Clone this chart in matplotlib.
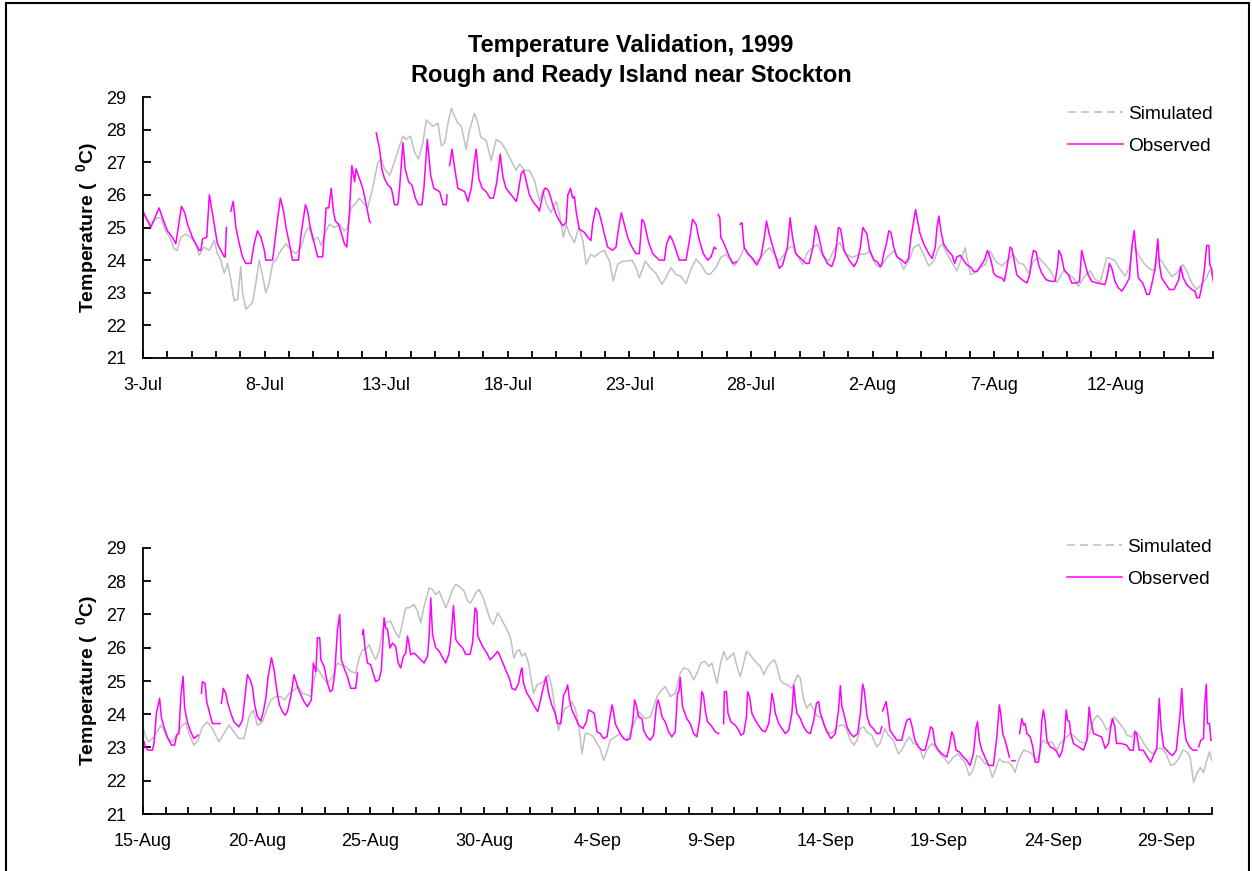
import numpy as np
import matplotlib.pyplot as plt
from matplotlib.lines import Line2D
from matplotlib.patches import Rectangle

plt.rcParams['font.family'] = ['Liberation Sans', 'DejaVu Sans']
plt.rcParams['mathtext.fontset'] = 'custom'
plt.rcParams['mathtext.rm'] = 'Liberation Sans'
plt.rcParams['mathtext.bf'] = 'Liberation Sans:bold'

nan = np.nan

# ---- data: (days since first tick, deg C), nan = gap in record ----
# 3-Jul .. 16-Aug 1999
top_labels = ['3-Jul', '8-Jul', '13-Jul', '18-Jul', '23-Jul', '28-Jul', '2-Aug', '7-Aug', '12-Aug']
top_ndays = 44

top_obs = [
    (0.00, 25.5), (0.32, 25.0), (0.66, 25.6), (0.80, 25.3), (1.00, 24.9), (1.21, 24.7), (1.35, 24.5),
    (1.58, 25.65), (1.72, 25.45), (1.83, 25.1), (2.03, 24.7), (2.31, 24.3), (2.38, 24.3), (2.45, 24.65),
    (2.62, 24.7), (2.73, 26.0), (2.86, 25.4), (2.95, 25.0), (3.06, 24.5), (3.20, 24.3), (3.34, 24.1),
    (3.38, 24.1), (3.43, 25.0), (nan, nan),
    (3.61, 25.5), (3.71, 25.8), (3.82, 25.0), (3.96, 24.5), (4.09, 24.1), (4.23, 23.9), (4.44, 23.9),
    (4.57, 24.5), (4.71, 24.9), (4.85, 24.7), (4.99, 24.3), (5.05, 24.0), (5.33, 24.0), (5.54, 25.3),
    (5.65, 25.9), (5.78, 25.5), (5.88, 25.0), (6.02, 24.5), (6.15, 24.0), (6.39, 24.0), (6.50, 24.8),
    (6.68, 25.7), (6.77, 25.5), (6.88, 25.0), (7.05, 24.5), (7.18, 24.1), (7.39, 24.1), (7.53, 25.6),
    (7.64, 25.6), (7.74, 26.2), (7.83, 25.5), (7.91, 25.2), (8.04, 25.1), (8.17, 24.8), (8.28, 24.5),
    (8.38, 24.4), (8.49, 25.5), (8.59, 26.9), (8.70, 26.4), (8.76, 26.8), (8.90, 26.5), (9.04, 26.2),
    (9.18, 25.7), (9.31, 25.2), (9.35, 25.15), (nan, nan),
    (9.59, 27.9), (9.73, 27.4), (9.82, 26.8), (9.93, 26.5), (10.07, 26.3), (10.21, 26.2), (10.27, 26.0),
    (10.34, 25.7), (10.48, 25.7), (10.55, 26.2), (10.69, 27.6), (10.78, 26.8), (10.92, 26.4),
    (11.06, 26.3), (11.20, 25.9), (11.33, 25.7), (11.47, 25.7), (11.55, 26.2), (11.69, 27.7),
    (11.83, 26.6), (11.96, 26.2), (12.20, 26.1), (12.34, 25.7), (12.47, 25.7), (12.50, 26.0), (nan, nan),
    (12.61, 26.9), (12.71, 27.4), (12.82, 26.8), (12.95, 26.2), (13.23, 26.1), (13.36, 25.8),
    (13.50, 26.2), (13.63, 27.05), (13.70, 27.4), (13.81, 26.5), (13.95, 26.2), (14.11, 26.1),
    (14.27, 25.9), (14.41, 25.9), (14.55, 26.4), (14.69, 27.25), (14.80, 26.55), (14.93, 26.2),
    (15.14, 26.0), (15.35, 25.8), (15.41, 26.0), (15.55, 26.65), (15.65, 26.75), (15.76, 26.4),
    (15.89, 26.0), (16.03, 25.8), (16.24, 25.6), (16.30, 25.5), (16.41, 25.9), (16.51, 26.2),
    (16.60, 26.2), (16.69, 26.1), (16.85, 25.7), (16.99, 25.4), (17.13, 25.2), (17.26, 25.05),
    (17.40, 25.15), (17.47, 26.0), (17.58, 26.2), (17.67, 25.9), (17.74, 25.95), (17.81, 25.5),
    (17.94, 24.95), (18.15, 24.85), (18.29, 24.7), (18.42, 24.6), (18.49, 25.1), (18.62, 25.6),
    (18.74, 25.5), (18.88, 25.1), (18.97, 24.8), (19.11, 24.4), (19.31, 24.3), (19.45, 24.4),
    (19.56, 25.0), (19.67, 25.45), (19.79, 25.1), (19.93, 24.7), (20.07, 24.45), (20.27, 24.2),
    (20.41, 24.2), (20.52, 25.25), (20.61, 25.15), (20.79, 24.55), (20.96, 24.2), (21.09, 24.1),
    (21.23, 24.0), (21.44, 24.0), (21.53, 24.5), (21.67, 24.75), (21.78, 24.6), (21.92, 24.3),
    (22.05, 24.0), (22.33, 24.0), (22.47, 24.6), (22.60, 25.25), (22.74, 25.1), (22.88, 24.6),
    (23.04, 24.2), (23.22, 24.0), (23.36, 24.1), (23.49, 24.4), (23.56, 24.35), (nan, nan),
    (23.65, 25.4), (23.72, 25.3), (23.76, 24.7), (23.90, 24.5), (24.11, 24.1), (24.25, 23.9),
    (24.41, 23.95), (nan, nan),
    (24.56, 25.1), (24.63, 25.15), (24.72, 24.4), (24.86, 24.2), (25.07, 24.05), (25.24, 23.85),
    (25.41, 24.1), (25.55, 24.7), (25.64, 25.2), (25.75, 24.8), (25.96, 24.25), (26.16, 23.75),
    (26.30, 23.85), (26.50, 24.4), (26.61, 25.3), (26.71, 24.7), (26.84, 24.2), (27.05, 24.05),
    (27.26, 23.9), (27.39, 23.9), (27.55, 24.4), (27.66, 25.05), (27.77, 24.8), (27.94, 24.2),
    (28.14, 23.9), (28.32, 23.8), (28.46, 24.1), (28.60, 25.0), (28.69, 24.95), (28.83, 24.3),
    (29.04, 24.0), (29.24, 23.8), (29.38, 24.0), (29.50, 24.4), (29.60, 25.0), (29.77, 24.8),
    (29.88, 24.3), (30.05, 24.0), (30.19, 23.95), (30.32, 23.8), (30.39, 23.9), (30.46, 24.2),
    (30.57, 24.5), (30.67, 24.9), (30.76, 24.85), (30.87, 24.4), (31.00, 24.1), (31.21, 24.0),
    (31.34, 23.9), (31.48, 24.05), (31.58, 24.7), (31.69, 25.2), (31.77, 25.55), (31.83, 25.3),
    (31.94, 24.85), (32.10, 24.5), (32.31, 24.2), (32.45, 24.05), (32.58, 24.4), (32.65, 25.0),
    (32.73, 25.35), (32.81, 24.9), (32.92, 24.5), (33.09, 24.3), (33.27, 24.15), (33.38, 23.9),
    (33.47, 24.1), (33.61, 24.15), (33.74, 24.0), (33.88, 23.85), (34.02, 23.8), (34.16, 23.65),
    (34.29, 23.65), (34.43, 23.8), (34.60, 24.0), (34.73, 24.3), (34.87, 24.0), (34.98, 23.6),
    (35.11, 23.5), (35.32, 23.45), (35.42, 23.35), (35.52, 23.75), (35.66, 24.4), (35.73, 24.35),
    (35.82, 24.0), (35.93, 23.55), (36.07, 23.45), (36.24, 23.35), (36.35, 23.3), (36.46, 23.55),
    (36.55, 24.05), (36.62, 24.3), (36.73, 24.25), (36.83, 23.85), (36.96, 23.6), (37.14, 23.4),
    (37.33, 23.35), (37.51, 23.35), (37.61, 23.85), (37.66, 24.3), (37.76, 24.15), (37.88, 23.7),
    (38.06, 23.55), (38.19, 23.3), (38.40, 23.3), (38.51, 23.35), (38.60, 24.3), (38.70, 24.0),
    (38.84, 23.6), (39.01, 23.35), (39.22, 23.3), (39.56, 23.25), (39.66, 23.55), (39.74, 23.9),
    (39.84, 23.75), (39.97, 23.35), (40.11, 23.15), (40.25, 23.05), (40.38, 23.2), (40.56, 23.45),
    (40.66, 24.4), (40.76, 24.9), (40.84, 24.2), (40.93, 23.45), (41.11, 23.3), (41.21, 23.1),
    (41.27, 22.95), (41.38, 22.95), (41.48, 23.25), (41.62, 23.75), (41.73, 24.65), (41.80, 23.85),
    (41.89, 23.45), (42.03, 23.3), (42.20, 23.1), (42.40, 23.1), (42.59, 23.4), (42.67, 23.8),
    (42.78, 23.45), (42.92, 23.25), (43.12, 23.1), (43.26, 23.05), (43.33, 22.85), (43.44, 22.85),
    (43.53, 23.15), (43.63, 23.6), (43.74, 24.45), (43.83, 24.45), (43.87, 23.85), (43.94, 23.75),
    (44.01, 23.35),
]

top_sim = [
    (0.00, 25.4), (0.32, 25.1), (0.59, 25.3), (0.73, 25.3), (0.93, 24.9), (1.13, 24.65), (1.27, 24.35),
    (1.41, 24.3), (1.55, 24.7), (1.76, 24.8), (1.96, 24.7), (2.17, 24.5), (2.31, 24.15), (2.51, 24.4),
    (2.72, 24.3), (2.93, 24.6), (3.06, 24.2), (3.20, 24.0), (3.34, 23.6), (3.48, 23.9), (3.61, 23.4),
    (3.75, 22.75), (3.89, 22.8), (4.02, 23.8), (4.09, 23.0), (4.23, 22.5), (4.37, 22.6), (4.50, 22.7),
    (4.64, 23.3), (4.78, 24.0), (4.92, 23.5), (5.05, 23.0), (5.19, 23.3), (5.33, 23.9), (5.47, 24.0),
    (5.67, 24.3), (5.88, 24.5), (6.09, 24.3), (6.29, 24.2), (6.50, 24.4), (6.70, 24.9), (6.84, 25.0),
    (6.98, 24.6), (7.19, 24.7), (7.32, 24.45), (7.53, 24.9), (7.67, 25.1), (7.87, 25.0), (8.08, 25.1),
    (8.28, 24.9), (8.42, 25.0), (8.56, 25.6), (8.70, 25.7), (8.90, 25.9), (9.11, 25.7), (9.24, 25.6),
    (9.38, 26.0), (9.52, 26.5), (9.66, 27.0), (9.80, 27.1), (9.93, 26.8), (10.14, 26.6), (10.34, 27.0),
    (10.55, 27.5), (10.69, 27.8), (10.82, 27.7), (11.00, 27.8), (11.17, 27.3), (11.33, 27.1),
    (11.51, 27.6), (11.65, 28.3), (11.78, 28.2), (11.92, 28.1), (12.13, 28.2), (12.27, 27.5),
    (12.41, 27.6), (12.54, 28.2), (12.68, 28.65), (12.82, 28.4), (12.95, 28.2), (13.09, 28.1),
    (13.29, 27.4), (13.42, 27.97), (13.63, 28.5), (13.77, 28.2), (13.89, 27.77), (14.11, 27.67),
    (14.32, 27.05), (14.52, 27.7), (14.73, 27.6), (14.93, 27.36), (15.14, 27.05), (15.35, 26.75),
    (15.48, 26.95), (15.69, 26.75), (15.89, 26.75), (16.10, 26.44), (16.30, 25.82), (16.44, 26.13),
    (16.60, 25.7), (16.78, 25.46), (16.99, 25.8), (17.13, 25.4), (17.29, 24.7), (17.40, 25.1),
    (17.54, 24.8), (17.74, 24.54), (17.92, 25.0), (18.09, 24.6), (18.22, 23.87), (18.42, 24.18),
    (18.56, 24.1), (18.77, 24.23), (18.97, 24.3), (19.18, 23.97), (19.34, 23.36), (19.52, 23.87),
    (19.72, 23.97), (19.93, 23.97), (20.11, 24.0), (20.27, 23.77), (20.41, 23.46), (20.66, 23.97),
    (20.85, 23.77), (21.09, 23.6), (21.34, 23.26), (21.50, 23.46), (21.71, 23.77), (21.92, 23.56),
    (22.12, 23.5), (22.33, 23.28), (22.53, 23.72), (22.74, 24.03), (22.94, 23.87), (23.15, 23.6),
    (23.31, 23.56), (23.56, 23.77), (23.76, 24.08), (23.97, 24.18), (24.14, 24.03), (24.31, 23.82),
    (24.52, 24.03), (24.72, 24.38), (24.93, 24.18), (25.13, 23.92), (25.34, 24.03), (25.55, 24.23),
    (25.75, 24.38), (25.96, 24.18), (26.16, 23.97), (26.37, 24.18), (26.57, 24.38), (26.71, 24.44),
    (26.91, 24.13), (27.12, 23.87), (27.32, 24.23), (27.53, 24.38), (27.73, 24.49), (27.94, 24.13),
    (28.21, 23.97), (28.42, 24.33), (28.65, 24.54), (28.90, 24.18), (29.17, 24.08), (29.45, 24.18),
    (29.71, 24.18), (29.91, 24.28), (30.12, 23.87), (30.32, 23.77), (30.59, 24.08), (30.87, 24.28),
    (31.07, 24.08), (31.28, 23.72), (31.48, 23.97), (31.69, 24.38), (31.90, 24.49), (32.10, 24.18),
    (32.31, 23.82), (32.52, 23.97), (32.72, 24.38), (32.86, 24.49), (33.07, 24.18), (33.27, 23.92),
    (33.47, 23.67), (33.61, 23.97), (33.81, 24.38), (34.02, 23.56), (34.22, 23.62), (34.43, 23.77),
    (34.64, 23.87), (34.84, 24.28), (35.05, 23.97), (35.32, 23.82), (35.52, 23.97), (35.79, 24.18),
    (36.00, 23.92), (36.21, 23.87), (36.42, 23.6), (36.62, 23.97), (36.83, 24.08), (37.10, 23.87),
    (37.31, 23.67), (37.58, 23.31), (37.85, 23.67), (38.06, 23.56), (38.26, 23.46), (38.47, 23.2),
    (38.67, 23.46), (38.95, 23.67), (39.16, 23.41), (39.36, 23.31), (39.63, 24.08), (39.84, 24.03),
    (39.97, 23.97), (40.18, 23.72), (40.38, 23.51), (40.56, 23.77), (40.70, 24.44), (40.79, 24.38),
    (40.93, 24.18), (41.14, 23.92), (41.34, 23.77), (41.55, 23.67), (41.75, 24.08), (41.89, 23.97),
    (42.10, 23.72), (42.30, 23.5), (42.51, 23.6), (42.75, 23.87), (42.92, 23.67), (43.12, 23.31),
    (43.33, 23.1), (43.53, 23.26), (43.74, 23.46), (43.87, 23.72), (44.01, 23.46),
]

# 15-Aug .. 1-Oct 1999
bot_labels = ['15-Aug', '20-Aug', '25-Aug', '30-Aug', '4-Sep', '9-Sep', '14-Sep', '19-Sep', '24-Sep', '29-Sep']
bot_ndays = 47

bot_obs = [
    (0.00, 23.27), (0.12, 23.0), (0.22, 22.92), (0.41, 22.92), (0.48, 23.1), (0.59, 24.03), (0.67, 24.28),
    (0.73, 24.48), (0.81, 23.9), (0.92, 23.62), (1.07, 23.32), (1.25, 23.07), (1.39, 23.07), (1.48, 23.37),
    (1.58, 23.42), (1.66, 24.53), (1.76, 25.14), (1.83, 24.18), (1.95, 23.77), (2.10, 23.47), (2.24, 23.27),
    (2.42, 23.37), (nan, nan),
    (2.57, 24.63), (2.61, 24.98), (2.73, 24.93), (2.80, 24.38), (2.93, 24.03), (3.05, 23.72), (3.39, 23.72),
    (nan, nan),
    (3.45, 24.33), (3.53, 24.78), (3.64, 24.63), (3.71, 24.38), (3.86, 24.03), (4.00, 23.77), (4.22, 23.62),
    (4.37, 23.82), (4.47, 24.43), (4.59, 25.19), (4.71, 25.04), (4.81, 24.83), (4.91, 24.28), (5.03, 23.93),
    (5.18, 23.8), (5.29, 24.08), (5.40, 24.48), (5.50, 25.13), (5.65, 25.7), (5.76, 25.34), (5.88, 24.73),
    (6.00, 24.28), (6.13, 24.08), (6.25, 23.97), (6.35, 24.08), (6.50, 24.53), (6.64, 25.19), (6.82, 24.78),
    (6.94, 24.58), (7.08, 24.38), (7.23, 24.23), (7.40, 24.43), (7.49, 25.54), (7.60, 25.29), (7.67, 26.3),
    (7.77, 26.3), (7.82, 25.64), (7.96, 25.44), (8.11, 24.93), (8.23, 24.68), (8.33, 24.73), (8.43, 25.24),
    (8.55, 26.55), (8.65, 27.0), (8.72, 25.64), (8.84, 25.39), (8.99, 25.13), (9.13, 24.78), (9.35, 24.78),
    (9.43, 25.24), (nan, nan),
    (9.65, 26.4), (9.69, 26.55), (9.75, 26.04), (9.87, 25.54), (10.01, 25.49), (10.12, 25.24),
    (10.23, 24.98), (10.38, 25.04), (10.48, 25.34), (10.56, 26.35), (10.60, 26.9), (10.67, 26.6),
    (10.75, 26.55), (10.86, 25.99), (10.97, 26.14), (11.11, 26.04), (11.22, 25.54), (11.33, 25.39),
    (11.45, 25.74), (11.55, 25.84), (11.63, 26.35), (11.70, 26.1), (11.77, 25.79), (11.92, 25.84),
    (12.07, 25.74), (12.21, 25.64), (12.36, 25.54), (12.51, 25.74), (12.58, 26.35), (12.65, 27.5),
    (12.73, 26.4), (12.87, 26.0), (13.02, 25.9), (13.17, 25.7), (13.31, 25.54), (13.46, 25.84),
    (13.56, 26.45), (13.65, 27.27), (13.75, 26.25), (13.90, 26.1), (14.05, 26.0), (14.19, 25.8),
    (14.38, 25.8), (14.49, 26.15), (14.60, 27.2), (14.68, 27.1), (14.72, 26.35), (14.82, 26.2),
    (14.96, 26.0), (15.12, 25.84), (15.26, 25.64), (15.41, 25.74), (15.59, 25.89), (15.67, 25.79),
    (15.82, 25.54), (16.00, 25.24), (16.11, 25.08), (16.22, 24.78), (16.37, 24.73), (16.51, 24.93),
    (16.61, 25.29), (16.66, 25.39), (16.73, 24.93), (16.88, 24.63), (17.02, 24.48), (17.17, 24.28),
    (17.35, 24.08), (17.43, 24.28), (17.54, 24.63), (17.68, 25.03), (17.72, 25.13), (17.83, 24.63),
    (17.97, 24.28), (18.12, 24.03), (18.22, 23.72), (18.37, 23.72), (18.49, 24.58), (18.58, 24.68),
    (18.67, 24.88), (18.75, 24.43), (18.86, 24.13), (19.00, 23.92), (19.15, 23.67), (19.34, 23.57),
    (19.49, 23.77), (19.59, 24.13), (19.73, 24.08), (19.84, 24.03), (19.96, 23.47), (20.10, 23.42),
    (20.25, 23.27), (20.40, 23.32), (20.51, 23.82), (20.62, 24.28), (20.69, 24.08), (20.76, 23.72),
    (20.87, 23.57), (20.98, 23.42), (21.13, 23.27), (21.28, 23.22), (21.42, 23.27), (21.54, 23.82),
    (21.61, 24.43), (21.69, 24.28), (21.79, 23.92), (21.94, 23.87), (22.01, 23.52), (22.16, 23.32),
    (22.30, 23.22), (22.45, 23.37), (22.57, 24.23), (22.64, 24.43), (22.71, 24.28), (22.82, 23.92),
    (22.96, 23.77), (23.11, 23.47), (23.25, 23.32), (23.40, 23.47), (23.50, 24.63), (23.56, 24.68),
    (23.62, 25.11), (23.72, 24.23), (23.80, 24.08), (23.91, 23.87), (24.06, 23.72), (24.21, 23.42),
    (24.35, 23.32), (24.47, 23.82), (24.57, 24.68), (24.64, 24.58), (24.73, 24.08), (24.82, 23.77),
    (24.97, 23.67), (25.16, 23.47), (25.31, 23.42), (nan, nan),
    (25.53, 23.72), (25.56, 24.68), (25.65, 24.68), (25.72, 24.03), (25.85, 23.77), (26.04, 23.67),
    (26.19, 23.52), (26.29, 23.37), (26.41, 23.42), (26.53, 23.92), (26.58, 24.68), (26.67, 24.53),
    (26.77, 24.03), (26.92, 23.82), (27.06, 23.67), (27.21, 23.52), (27.36, 23.47), (27.51, 23.72),
    (27.58, 24.08), (27.65, 24.63), (27.73, 24.38), (27.80, 24.03), (27.95, 23.72), (28.09, 23.57),
    (28.24, 23.42), (28.39, 23.52), (28.53, 24.03), (28.61, 24.88), (28.68, 24.38), (28.75, 24.03),
    (28.90, 23.87), (29.05, 23.62), (29.19, 23.47), (29.34, 23.42), (29.49, 23.82), (29.61, 24.33),
    (29.71, 24.38), (29.78, 24.03), (29.93, 23.72), (30.07, 23.47), (30.25, 23.27), (30.44, 23.42),
    (30.58, 24.13), (30.66, 24.86), (30.73, 24.23), (30.81, 24.03), (30.95, 23.62), (31.10, 23.42),
    (31.25, 23.32), (31.42, 23.42), (31.54, 24.03), (31.64, 24.91), (31.71, 24.73), (31.83, 23.95),
    (31.96, 23.67), (32.11, 23.57), (32.26, 23.42), (32.40, 23.42), (32.48, 23.62), (nan, nan),
    (32.52, 24.1), (32.67, 24.38), (32.73, 24.13), (32.84, 23.52), (32.99, 23.37), (33.14, 23.22),
    (33.36, 23.22), (33.46, 23.52), (33.58, 23.82), (33.72, 23.87), (33.80, 23.67), (33.94, 23.22),
    (34.09, 23.02), (34.24, 22.92), (34.38, 22.92), (34.53, 23.32), (34.63, 23.62), (34.72, 23.57),
    (34.82, 23.1), (34.97, 22.92), (35.12, 22.81), (35.34, 22.71), (35.45, 23.02), (35.56, 23.47),
    (35.63, 23.37), (35.75, 22.92), (35.89, 22.87), (36.07, 22.71), (36.22, 22.61), (36.36, 22.46),
    (36.51, 22.81), (36.63, 23.62), (36.69, 23.77), (36.77, 23.22), (36.88, 22.92), (37.02, 22.71),
    (37.17, 22.46), (37.39, 22.46), (37.54, 23.32), (37.65, 24.28), (37.71, 24.03), (37.80, 23.42),
    (37.90, 23.22), (37.98, 23.02), (38.09, 22.71), (nan, nan), (38.20, 22.6), (38.34, 22.6), (nan, nan),
    (38.54, 23.42), (38.64, 23.87), (38.72, 23.67), (38.79, 23.72), (38.86, 23.42), (39.01, 23.32),
    (39.12, 23.02), (39.23, 22.56), (39.37, 22.56), (39.44, 22.92), (39.52, 23.82), (39.59, 24.13),
    (39.66, 23.82), (39.74, 23.22), (39.88, 23.02), (40.03, 22.97), (40.18, 22.87), (40.29, 22.71),
    (40.40, 22.87), (40.50, 23.22), (40.59, 24.13), (40.65, 23.82), (40.73, 23.77), (40.79, 23.42),
    (40.91, 23.12), (41.13, 23.02), (41.35, 22.92), (41.50, 23.22), (41.60, 24.22), (41.67, 23.82),
    (41.79, 23.42), (41.96, 23.37), (42.15, 23.32), (42.30, 22.97), (42.45, 23.12), (42.55, 23.62),
    (42.62, 23.87), (42.73, 23.62), (42.80, 23.12), (43.02, 23.12), (43.25, 23.07), (43.39, 22.92),
    (43.54, 22.92), (43.61, 23.47), (43.69, 23.42), (43.80, 22.92), (43.98, 22.92), (44.16, 22.71),
    (44.31, 22.56), (44.43, 22.76), (44.57, 22.97), (44.68, 24.48), (44.76, 23.62), (44.87, 23.02),
    (45.01, 22.92), (45.16, 22.81), (45.28, 22.76), (45.43, 22.92), (45.60, 24.03), (45.67, 24.78),
    (45.75, 23.82), (45.86, 23.22), (46.01, 23.02), (46.16, 22.92), (46.33, 22.92), (nan, nan),
    (46.41, 23.02), (46.51, 23.22), (46.63, 23.27), (46.67, 24.23), (46.75, 24.9), (46.80, 23.72),
    (46.89, 23.72), (46.95, 23.22), (47.04, 23.22),
]

bot_sim = [
    (0.00, 23.62), (0.12, 23.32), (0.26, 23.17), (0.48, 23.32), (0.63, 23.47), (0.78, 23.67), (0.92, 23.52),
    (1.07, 23.27), (1.29, 23.17), (1.51, 23.42), (1.73, 23.67), (1.88, 23.74), (2.02, 23.42), (2.24, 23.07),
    (2.42, 23.22), (2.61, 23.62), (2.83, 23.77), (3.05, 23.57), (3.34, 23.17), (3.56, 23.42), (3.78, 23.67),
    (4.00, 23.47), (4.22, 23.27), (4.44, 23.27), (4.66, 23.92), (4.85, 24.13), (5.03, 23.67), (5.25, 23.77),
    (5.44, 24.13), (5.62, 24.43), (5.84, 24.53), (6.06, 24.53), (6.23, 24.43), (6.42, 24.63), (6.64, 24.73),
    (6.82, 24.83), (7.01, 24.63), (7.23, 24.58), (7.40, 24.53), (7.55, 25.13), (7.67, 25.39), (7.89, 25.13),
    (8.11, 24.93), (8.33, 25.13), (8.55, 25.54), (8.69, 25.49), (8.91, 25.44), (9.13, 25.29), (9.35, 25.24),
    (9.50, 25.69), (9.65, 25.94), (9.79, 25.94), (9.94, 26.09), (10.09, 25.84), (10.23, 25.64),
    (10.38, 25.89), (10.53, 26.55), (10.67, 26.75), (10.89, 26.8), (11.11, 26.45), (11.26, 26.3),
    (11.41, 26.75), (11.55, 27.2), (11.70, 27.2), (11.92, 27.3), (12.07, 27.1), (12.21, 26.75),
    (12.36, 27.25), (12.51, 27.6), (12.58, 27.8), (12.73, 27.75), (12.87, 27.6), (13.02, 27.7),
    (13.17, 27.45), (13.31, 27.2), (13.46, 27.45), (13.61, 27.75), (13.75, 27.9), (13.90, 27.85),
    (14.12, 27.7), (14.27, 27.4), (14.41, 27.35), (14.63, 27.65), (14.78, 27.75), (14.96, 27.5),
    (15.12, 27.15), (15.26, 26.85), (15.41, 26.7), (15.59, 27.05), (15.73, 26.9), (15.92, 26.65),
    (16.07, 26.45), (16.17, 26.25), (16.31, 25.69), (16.43, 25.89), (16.55, 25.94), (16.66, 25.74),
    (16.80, 25.84), (16.95, 25.54), (17.05, 25.13), (17.17, 24.63), (17.32, 24.88), (17.46, 24.93),
    (17.61, 24.98), (17.83, 25.19), (17.97, 24.83), (18.12, 24.13), (18.27, 23.52), (18.42, 23.92),
    (18.56, 24.18), (18.71, 24.23), (18.86, 24.38), (19.00, 24.18), (19.15, 23.72), (19.30, 22.81),
    (19.44, 23.42), (19.59, 23.42), (19.81, 23.32), (19.96, 23.12), (20.10, 22.97), (20.25, 22.61),
    (20.37, 22.81), (20.54, 23.22), (20.76, 23.32), (20.98, 23.42), (21.20, 23.22), (21.35, 23.32),
    (21.57, 23.67), (21.79, 24.08), (21.94, 23.97), (22.08, 23.87), (22.30, 23.92), (22.60, 24.53),
    (22.74, 24.68), (22.96, 24.83), (23.18, 24.53), (23.40, 24.63), (23.62, 25.24), (23.77, 25.39),
    (23.99, 25.34), (24.21, 25.03), (24.39, 25.29), (24.53, 25.54), (24.72, 25.59), (24.87, 25.44),
    (25.01, 25.54), (25.12, 25.24), (25.23, 24.93), (25.38, 25.49), (25.53, 25.89), (25.67, 25.64),
    (25.82, 25.74), (25.97, 25.84), (26.11, 25.44), (26.26, 25.13), (26.41, 25.54), (26.53, 25.89),
    (26.70, 25.79), (26.85, 25.64), (26.99, 25.54), (27.14, 25.44), (27.29, 25.19), (27.43, 25.39),
    (27.58, 25.54), (27.76, 25.64), (27.87, 25.44), (28.02, 25.03), (28.16, 24.93), (28.34, 24.88),
    (28.53, 24.78), (28.68, 25.03), (28.78, 25.19), (28.90, 25.08), (29.05, 24.43), (29.19, 24.18),
    (29.34, 24.33), (29.56, 24.03), (29.71, 23.92), (29.85, 23.92), (29.96, 23.62), (30.07, 23.52),
    (30.22, 23.42), (30.37, 23.47), (30.51, 23.62), (30.66, 23.67), (30.81, 23.67), (30.95, 23.52),
    (31.10, 23.22), (31.25, 23.07), (31.39, 23.22), (31.54, 23.57), (31.69, 23.62), (31.82, 23.47),
    (32.04, 23.37), (32.26, 23.02), (32.40, 23.12), (32.62, 23.57), (32.77, 23.37), (32.99, 23.22),
    (33.21, 22.81), (33.36, 22.92), (33.50, 23.12), (33.69, 23.32), (33.87, 23.12), (34.09, 23.07),
    (34.31, 22.66), (34.46, 22.92), (34.68, 23.12), (34.82, 23.02), (35.04, 22.81), (35.26, 22.66),
    (35.41, 22.51), (35.63, 22.71), (35.85, 22.81), (35.99, 22.66), (36.14, 22.56), (36.33, 22.15),
    (36.51, 22.35), (36.66, 22.76), (36.80, 22.71), (37.02, 22.51), (37.17, 22.51), (37.34, 22.1),
    (37.46, 22.3), (37.65, 22.66), (37.83, 22.56), (38.05, 22.56), (38.20, 22.46), (38.34, 22.25),
    (38.49, 22.61), (38.72, 22.92), (38.94, 22.87), (39.08, 22.81), (39.23, 22.61), (39.37, 22.71),
    (39.57, 23.22), (39.74, 23.12), (39.96, 23.17), (40.18, 22.92), (40.32, 23.12), (40.54, 23.27),
    (40.76, 23.42), (40.98, 23.32), (41.20, 23.17), (41.42, 23.12), (41.64, 23.47), (41.79, 23.82),
    (41.96, 23.97), (42.15, 23.82), (42.38, 23.52), (42.52, 23.62), (42.70, 23.92), (42.89, 23.77),
    (43.11, 23.57), (43.26, 23.37), (43.48, 23.32), (43.61, 23.52), (43.84, 23.32), (44.05, 23.07),
    (44.20, 22.92), (44.39, 22.81), (44.57, 22.97), (44.79, 22.97), (44.98, 22.81), (45.18, 22.46),
    (45.37, 22.51), (45.53, 22.66), (45.72, 22.92), (45.89, 22.87), (46.04, 22.71), (46.19, 21.95),
    (46.33, 22.2), (46.48, 22.4), (46.63, 22.25), (46.77, 22.6), (46.89, 22.87), (47.04, 22.51),
]

SIM_COLOR = '#c0c0c0'
OBS_COLOR = '#ff00ff'
W, H = 1252, 871

fig = plt.figure(figsize=(W / 100, H / 100), dpi=100)


def draw_panel(rect, obs, sim, labels, ndays, leg_y):
    ax = fig.add_axes(rect)
    sx, sy = zip(*sim)
    ox, oy = zip(*obs)
    ax.plot(sx, sy, color=SIM_COLOR, lw=1.1)
    ax.plot(ox, oy, color=OBS_COLOR, lw=1.1)

    ax.set_xlim(0, ndays)
    ax.set_ylim(21, 29)
    ax.set_yticks(range(21, 30))
    ax.set_xticks(range(0, 5 * len(labels), 5))
    ax.set_xticklabels(labels)
    ax.set_xticks(range(0, ndays + 1), minor=True)
    for s in ['top', 'right']:
        ax.spines[s].set_visible(False)
    for s in ['left', 'bottom']:
        ax.spines[s].set_linewidth(1.3)
    ax.tick_params(axis='y', direction='in', length=6, width=1.3, labelsize=13, pad=12)
    ax.tick_params(axis='x', which='both', direction='in', length=5, width=1.3,
                   labelsize=13, pad=14)
    ax.set_ylabel(r'Temperature (  ${}^{\mathbf{0}}$C)', fontsize=14, fontweight='bold', labelpad=4)

    handles = [Line2D([], [], color=SIM_COLOR, lw=1.2, dashes=(4.8, 3)),
               Line2D([], [], color=OBS_COLOR, lw=1.1)]
    leg = ax.legend(handles, ['Simulated', 'Observed'], loc='upper right', bbox_to_anchor=(1.0, leg_y),
                    frameon=False, fontsize=13.8, handlelength=2.9, handletextpad=0.26,
                    labelspacing=0.76, borderpad=0, borderaxespad=0)
    leg.set_clip_on(False)
    return ax


draw_panel([143 / W, 1 - 358 / H, 1070 / W, 261 / H], top_obs, top_sim, top_labels, top_ndays, 0.967)
draw_panel([143 / W, 1 - 814 / H, 1069 / W, 266 / H], bot_obs, bot_sim, bot_labels, bot_ndays, 1.036)

fig.text(631 / W, 1 - 52 / H, 'Temperature Validation, 1999', ha='center', va='baseline',
         fontsize=17, fontweight='bold')
fig.text(631 / W, 1 - 82 / H, 'Rough and Ready Island near Stockton', ha='center', va='baseline',
         fontsize=17, fontweight='bold')

# chart area border
fig.patches.append(Rectangle((6 / W, -0.05), 1243 / W, 1.05 - 3 / H, transform=fig.transFigure,
                             fill=False, lw=1.5, edgecolor='black'))

fig.savefig('out.png', dpi=100)
